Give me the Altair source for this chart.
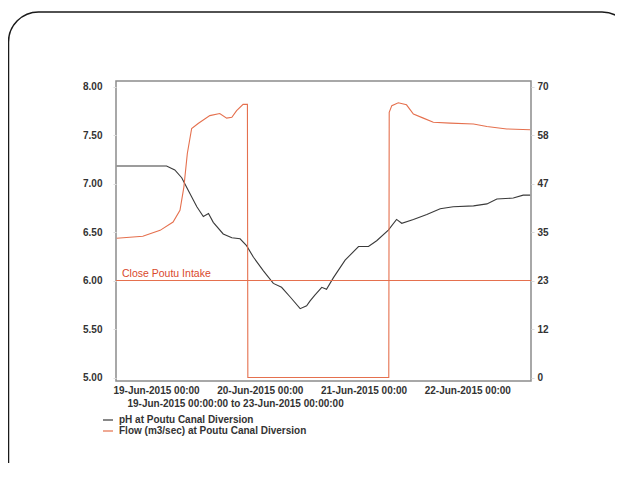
import altair as alt
import pandas as pd

# ---------------- data ----------------
ph_time = [
    "2015-06-19 00:10", "2015-06-19 11:42", "2015-06-19 13:36", "2015-06-19 15:12",
    "2015-06-19 16:42", "2015-06-19 18:42", "2015-06-19 20:12", "2015-06-19 21:24",
    "2015-06-19 22:30", "2015-06-20 00:48", "2015-06-20 02:48", "2015-06-20 04:42",
    "2015-06-20 06:12", "2015-06-20 07:48", "2015-06-20 10:06", "2015-06-20 12:24",
    "2015-06-20 14:18", "2015-06-20 16:18", "2015-06-20 18:36", "2015-06-20 20:06",
    "2015-06-20 20:54", "2015-06-20 22:00", "2015-06-20 23:36", "2015-06-21 00:42",
    "2015-06-21 02:18", "2015-06-21 05:00", "2015-06-21 08:06", "2015-06-21 10:24",
    "2015-06-21 12:18", "2015-06-21 15:00", "2015-06-21 16:54", "2015-06-21 18:06",
    "2015-06-21 20:48", "2015-06-21 23:54", "2015-06-22 03:00", "2015-06-22 06:00",
    "2015-06-22 10:42", "2015-06-22 13:48", "2015-06-22 16:06", "2015-06-22 19:54",
    "2015-06-22 22:12", "2015-06-22 23:48",
]
ph_value = [
    7.18, 7.18, 7.14, 7.06, 6.93, 6.76, 6.66, 6.69, 6.60, 6.48, 6.44, 6.43,
    6.36, 6.24, 6.10, 5.97, 5.93, 5.83, 5.71, 5.74, 5.79, 5.85, 5.93, 5.91,
    6.03, 6.21, 6.35, 6.35, 6.41, 6.52, 6.63, 6.59, 6.63, 6.68, 6.74, 6.76,
    6.77, 6.79, 6.84, 6.85, 6.88, 6.88,
]

flow_time = [
    "2015-06-19 00:10", "2015-06-19 06:12", "2015-06-19 10:12", "2015-06-19 13:12",
    "2015-06-19 14:48", "2015-06-19 15:42", "2015-06-19 16:30", "2015-06-19 17:30",
    "2015-06-19 19:00", "2015-06-19 21:42", "2015-06-20 00:00", "2015-06-20 01:36",
    "2015-06-20 02:48", "2015-06-20 03:54", "2015-06-20 05:24", "2015-06-20 06:24",
    "2015-06-20 06:30", "2015-06-21 15:06", "2015-06-21 15:12", "2015-06-21 15:48",
    "2015-06-21 17:18", "2015-06-21 19:12", "2015-06-21 20:48", "2015-06-21 23:06",
    "2015-06-22 01:24", "2015-06-22 05:18", "2015-06-22 10:42", "2015-06-22 13:48",
    "2015-06-22 18:24", "2015-06-22 23:48",
]
flow_value = [
    33.5, 34.0, 35.4, 37.4, 40.2, 45.8, 53.9, 59.9, 61.1, 63.0, 63.5, 62.4,
    62.6, 64.2, 65.7, 65.7, 0.0, 0.0, 63.8, 65.4, 66.1, 65.6, 63.4, 62.4,
    61.4, 61.2, 61.0, 60.4, 59.8, 59.6,
]

series_names = ["pH at Poutu Canal Diversion", "Flow (m3/sec) at Poutu Canal Diversion"]
threshold_ph = [6.0]
threshold_label = ["Close Poutu Intake"]
x_tick_days = [19, 20, 21, 22]
x_domain_days = [19, 23]
ph_ticks = [5.0, 5.5, 6.0, 6.5, 7.0, 7.5, 8.0]
flow_ticks = [0, 70 / 6, 70 / 3, 35, 140 / 3, 175 / 3, 70]
x_title = "19-Jun-2015 00:00:00 to 23-Jun-2015 00:00:00"

# ---------------- tables ----------------
ph_df = pd.DataFrame({"time": ph_time, "ph": ph_value, "series": series_names[0]})
flow_df = pd.DataFrame({"time": flow_time, "flow": flow_value, "series": series_names[1]})
thr_df = pd.DataFrame({"ph": threshold_ph, "label": threshold_label})
frame_df = pd.DataFrame({"k": [0]})

FONT = "Liberation Sans"
RED = "#e5704e"
DARK = "#3a3a3a"
FS = 10


def day(d):
    return alt.DateTime(year=2015, month=6, date=d)


x_enc = alt.X(
    "time:T",
    scale=alt.Scale(domain=[day(d) for d in x_domain_days]),
    axis=alt.Axis(
        values=[day(d) for d in x_tick_days],
        format="%d-%b-%Y %H:%M",
        labelAlign="left",
        labelOffset=-3,
        labelBaseline="top",
        labelPadding=4,
        labelFlush=False,
        labelOverlap=False,
        tickSize=0,
        domain=False,
        grid=False,
        title=x_title,
        titleAnchor="start",
        titleAlign="left",
        titleBaseline="top",
        titleX=11,
        titleY=17,
    ),
)

ph_scale = alt.Scale(domain=[4.964, 8.057], nice=False, zero=False)
flow_scale = alt.Scale(domain=[-0.84, 71.33], nice=False, zero=False)
ph_axis = alt.Axis(
    values=ph_ticks, format=".2f", title=None, grid=False, domain=False,
    tickSize=3, tickColor="#dddddd", labelPadding=11,
)
flow_axis = alt.Axis(
    orient="right", values=flow_ticks, format=".0f", title=None, grid=False,
    domain=False, tickSize=3, tickColor="#dddddd", labelPadding=3,
)
color_scale = alt.Scale(domain=series_names, range=[DARK, RED])
legend = alt.Legend(
    orient="none",
    legendX=-14,
    legendY=333,
    title=None,
    symbolType="stroke",
    symbolSize=100,
    symbolStrokeWidth=1.2,
    labelOffset=5,
    labelLimit=0,
    rowPadding=0,
    padding=0,
    labelFont=FONT,
    labelFontSize=FS,
    labelFontWeight="bold",
    labelColor="#333333",
)

ph_line = alt.Chart(ph_df).mark_line(strokeWidth=1.1).encode(
    x=x_enc,
    y=alt.Y("ph:Q", scale=ph_scale, axis=ph_axis),
    color=alt.Color("series:N", scale=color_scale, legend=legend),
)

rule = alt.Chart(thr_df).mark_rule(color=RED, strokeWidth=1).encode(
    y=alt.Y("ph:Q", scale=ph_scale, axis=ph_axis)
)

rule_text = alt.Chart(thr_df).mark_text(
    align="left", baseline="bottom", dy=-2, color="#d9482c",
    font=FONT, fontSize=10.5,
).encode(
    x=alt.value(6),
    y=alt.Y("ph:Q", scale=ph_scale, axis=ph_axis),
    text="label:N",
)

flow_line = alt.Chart(flow_df).mark_line(strokeWidth=1.1).encode(
    x=x_enc,
    y=alt.Y("flow:Q", scale=flow_scale, axis=flow_axis),
    color=alt.Color("series:N", scale=color_scale, legend=legend),
)

border = alt.Chart(frame_df).mark_rect(
    filled=False, stroke="#1a1a1a", strokeWidth=1.5, cornerRadius=30
).encode(
    x=alt.value(-107.5), x2=alt.value(516), y=alt.value(-69), y2=alt.value(430)
)

chart = (
    alt.layer(border, alt.layer(ph_line, rule, rule_text), flow_line)
    .resolve_scale(y="independent")
    .properties(
        width=415,
        height=300,
        autosize=alt.AutoSizeParams(type="none"),
        padding={"left": 108, "top": 73, "right": 84, "bottom": 82},
    )
    .configure_view(stroke="#8c8c8c", strokeWidth=1.5)
    .configure_axis(
        labelFont=FONT, labelFontSize=FS, labelFontWeight="bold", labelColor="#333333",
        titleFont=FONT, titleFontSize=FS, titleFontWeight="bold", titleColor="#333333",
    )
)

chart.save("out.html", embed_options={"renderer": "svg", "actions": False})
